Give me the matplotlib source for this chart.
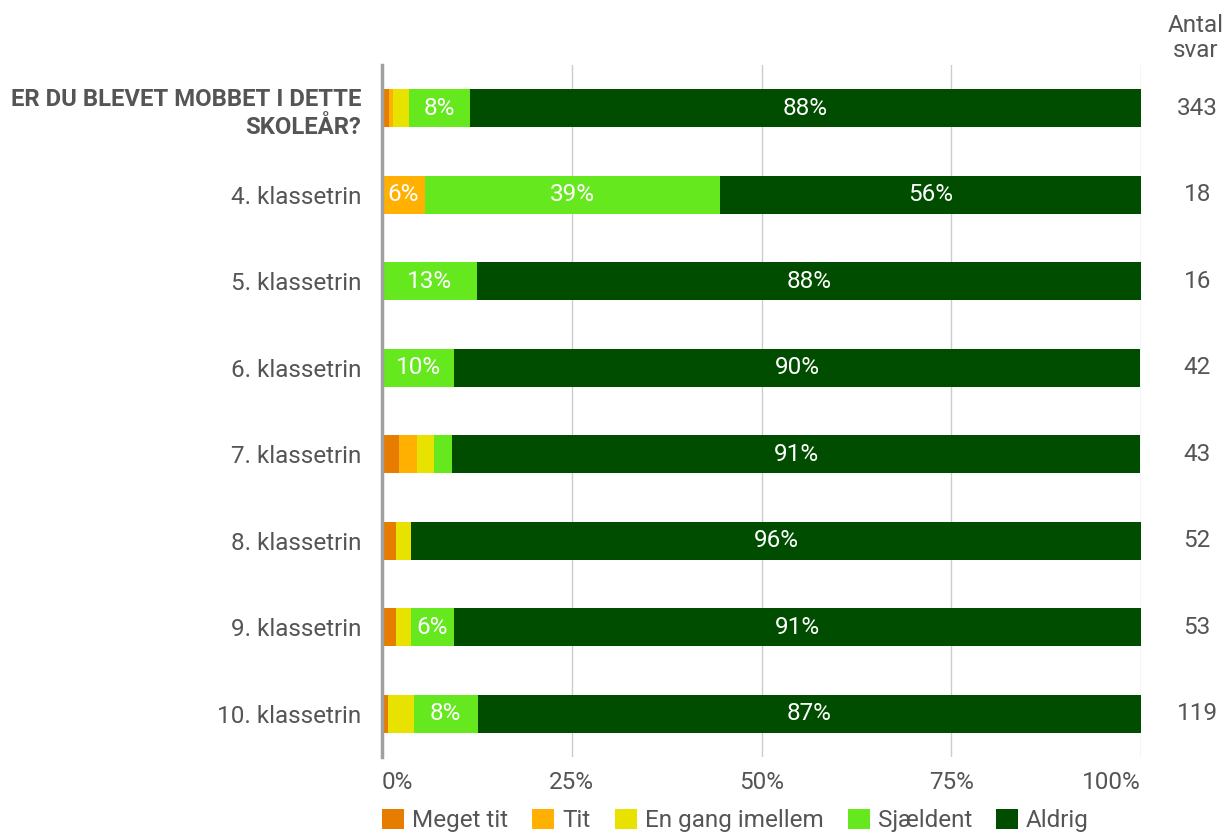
import matplotlib.pyplot as plt
import numpy as np

plt.rcParams['font.family'] = ['Roboto', 'DejaVu Sans']

categories = ['ER DU BLEVET MOBBET I DETTE\nSKOLEÅR?', '4. klassetrin', '5. klassetrin',
              '6. klassetrin', '7. klassetrin', '8. klassetrin', '9. klassetrin',
              '10. klassetrin']
counts = [343, 18, 16, 42, 43, 52, 53, 119]
series = ['Meget tit', 'Tit', 'En gang imellem', 'Sjældent', 'Aldrig']
meget_tit = [0.9, 0.0, 0.0, 0.0, 2.3, 1.9, 1.9, 0.8]
tit = [0.6, 5.6, 0.0, 0.0, 2.3, 0.0, 0.0, 0.0]
en_gang = [2.0, 0.0, 0.0, 0.0, 2.3, 1.9, 1.9, 3.4]
sjaeldent = [8.1, 38.9, 12.5, 9.5, 2.3, 0.0, 5.7, 8.4]
aldrig = [88.4, 55.6, 87.5, 90.4, 90.7, 96.2, 90.6, 87.4]
colors = ['#E67C00', '#FFB000', '#E8E200', '#66E81E', '#004D00']

data = [meget_tit, tit, en_gang, sjaeldent, aldrig]
fs = 17.5

fig = plt.figure(figsize=(12.26, 8.35), dpi=100)
ax = fig.add_axes([382/1226, 1 - 757/835, (1141-382)/1226, (757-65)/835])

y = np.arange(len(categories))
left = np.zeros(len(categories))
for vals, c, name in zip(data, colors, series):
    vals = np.array(vals)
    ax.barh(y, vals, left=left, height=0.44, color=c, label=name, zorder=3)
    for i, v in enumerate(vals):
        if v >= 5:
            ax.text(left[i] + v / 2, y[i], f'{int(v + 0.5)}%', ha='center', va='center',
                    color='white', fontsize=fs, zorder=4)
    left += vals

ax.set_xlim(0, 100)
ax.set_ylim(len(categories) - 0.5, -0.5)
ax.set_xticks([0, 25, 50, 75, 100])
ax.set_xticklabels(['0%', '25%', '50%', '75%', '100%'], fontsize=fs, color='#555555')
xt = ax.get_xticklabels()
xt[0].set_ha('left')
xt[-1].set_ha('right')
ax.set_yticks(y)
ax.set_yticklabels(categories, fontsize=fs, color='#555555')
yt = ax.get_yticklabels()
yt[0].set_fontweight('bold')
yt[0].set_fontsize(17.2)
yt[0].set_linespacing(1.3)
ax.tick_params(axis='both', length=0)
ax.tick_params(axis='y', pad=15)
ax.tick_params(axis='x', pad=10)
ax.grid(axis='x', color='#CCCCCC', linewidth=1, zorder=0)
for s in ['top', 'right', 'bottom']:
    ax.spines[s].set_visible(False)
ax.spines['left'].set_color('#A0A0A0')
ax.spines['left'].set_linewidth(2.5)
ax.spines['left'].set_zorder(5)

for i, n in enumerate(counts):
    ax.text(1.074, y[i], str(n), transform=ax.get_yaxis_transform(), ha='center',
            va='center', fontsize=fs, color='#555555')
fig.text(1196/1226, 1 - 38/835, 'Antal\nsvar', ha='center', va='center',
         fontsize=fs, color='#555555', linespacing=1.15)

leg = ax.legend(loc='upper left', bbox_to_anchor=(0, -0.075), ncol=5, frameon=False,
                fontsize=fs, handlelength=0.9, handleheight=0.9, handletextpad=0.33,
                columnspacing=1.0, borderaxespad=0, borderpad=0)
for t in leg.get_texts():
    t.set_color('#555555')

fig.savefig('out.png', dpi=100)
